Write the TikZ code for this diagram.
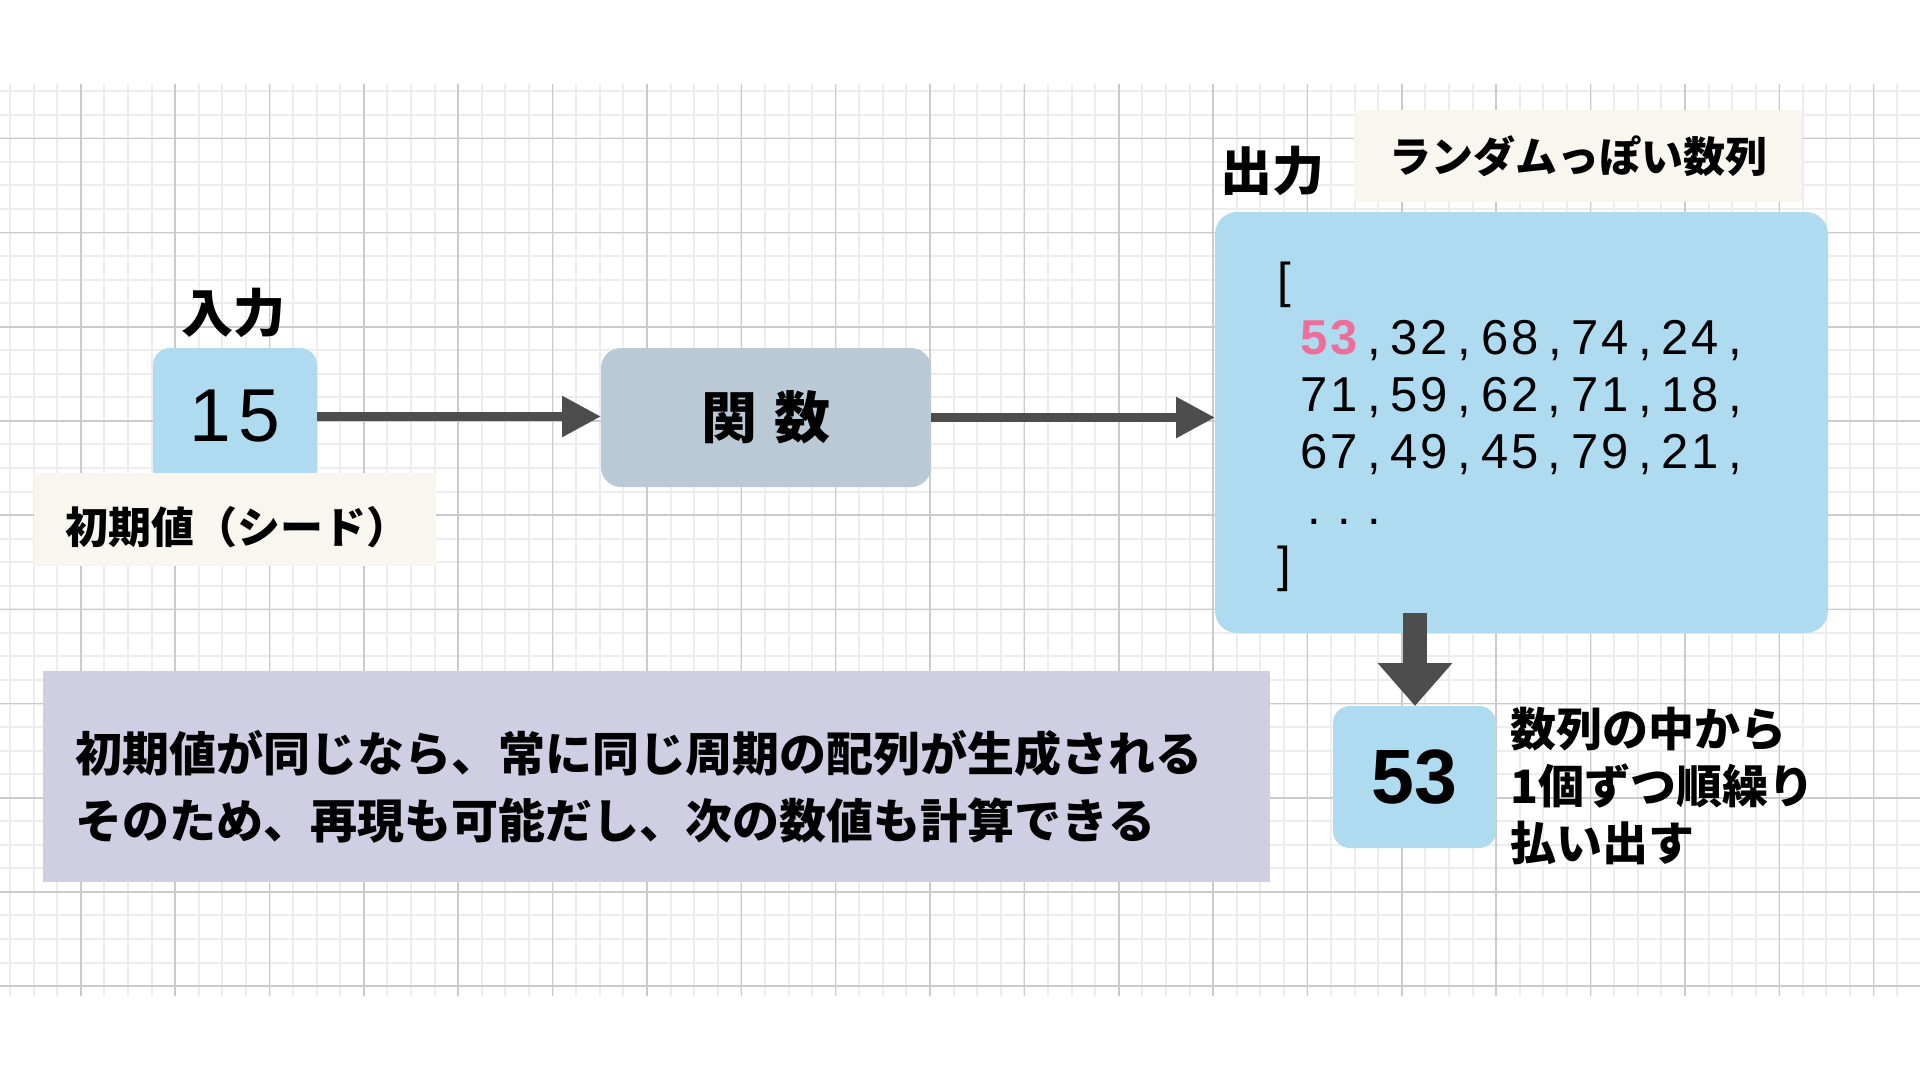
\documentclass[tikz,border=0pt]{standalone}
\usepackage{fontspec}
\setmainfont{Liberation Sans}
\newfontfamily\jp{Noto Sans CJK JP}
\newfontfamily\lsans{Liberation Sans}
\usetikzlibrary{arrows.meta}
\definecolor{boxblue}{HTML}{AEDBEF}
\definecolor{fnblue}{HTML}{B9C9D6}
\definecolor{creamc}{HTML}{F8F6EE}
\definecolor{lav}{HTML}{CFCEE3}
\definecolor{arrowgray}{HTML}{4D4D4D}
\definecolor{pinknum}{HTML}{EE6E9A}
\definecolor{gridmajor}{HTML}{CBCBCB}
\definecolor{gridminor}{HTML}{EDEDED}
\newcommand\mcell[1]{\makebox[30.1pt]{#1}}
\def\mrow#1{\ifx#1\relax\else\mcell{#1}\expandafter\mrow\fi}
\begin{document}
\begin{tikzpicture}[x=1pt,y=-1pt,
  every node/.style={inner sep=0pt, outer sep=0pt},
  gridminorline/.style={draw=gridminor, line width=2pt},
  gridmajorline/.style={draw=gridmajor, line width=1.6pt},
  bluebox/.style={rectangle, fill=boxblue, rounded corners=17pt},
  fnbox/.style={rectangle, fill=fnblue, rounded corners=20pt},
  creambox/.style={rectangle, fill=creamc},
  lavbox/.style={rectangle, fill=lav},
  titletxt/.style={font={\jp\bfseries\fontsize{52}{60}\selectfont}},
  listtxt/.style={font={\lsans\fontsize{49}{57}\selectfont}, anchor=base west},
  sidetxt/.style={font={\jp\bfseries\fontsize{46}{56}\selectfont}, anchor=base west},
  notetxt/.style={font={\jp\bfseries\fontsize{47}{60}\selectfont}, anchor=base west},
  flow/.style={draw=arrowgray, line width=9pt, -{Triangle[length=39pt,width=39pt]}},
  downflow/.style={draw=arrowgray, line width=24pt, -{Triangle[length=43pt,width=72pt]}}
]
\useasboundingbox (0,0) rectangle (1920,1080);
\fill[white] (0,0) rectangle (1920,1080);
% grid
\foreach \k in {-3,...,77}{\draw[gridminorline] ({80.8+23.59*\k},84) -- ({80.8+23.59*\k},996);}
\foreach \k in {-2,...,36}{\draw[gridminorline] (0,{138.3+23.55*\k}) -- (1920,{138.3+23.55*\k});}
\foreach \k in {0,...,19}{\draw[gridmajorline] ({80.8+94.36*\k},84) -- ({80.8+94.36*\k},996);}
\foreach \k in {0,...,9}{\draw[gridmajorline] (0,{138.3+94.2*\k}) -- (1920,{138.3+94.2*\k});}

% input
\node[bluebox, minimum width=164pt, minimum height=137pt,
      font={\lsans\fontsize{75}{80}\selectfont}] (in) at (235,416.5) {1\hspace{8pt}5};
\node[titletxt, anchor=base] (inlabel) at (233,332) {入力};
\node[creambox, minimum width=402pt, minimum height=93pt] (seedbox) at (235,519.5) {};
\node[font={\jp\bfseries\fontsize{43}{50}\selectfont}, anchor=base west] (seed) at (65,543) {初期値（シード）};

% function
\node[fnbox, minimum width=330pt, minimum height=139pt,
      font={\jp\bfseries\fontsize{56}{60}\selectfont}] (fn) at (766,417.5) {関\hspace{18pt}数};

% output
\node[bluebox, rounded corners=22pt, minimum width=613pt, minimum height=421pt] (out) at (1521.5,422.5) {};
\node[titletxt, anchor=base west] (outlabel) at (1220,190) {出力};
\node[creambox, minimum width=448pt, minimum height=92pt,
      font={\jp\bfseries\fontsize{42}{50}\selectfont}] (rand) at (1578,156) {ランダムっぽい数列};
\node[listtxt] (l0) at (1269,297) {\mrow [\relax};
\node[listtxt] (l1) at (1299,354) {{\color{pinknum}\bfseries\mrow 53\relax}\mrow ,32,68,74,24,\relax};
\node[listtxt] (l2) at (1299,411) {\mrow 71,59,62,71,18,\relax};
\node[listtxt] (l3) at (1299,468) {\mrow 67,49,45,79,21,\relax};
\node[listtxt] (l4) at (1299,524) {\mrow ...\relax};
\node[listtxt] (l5) at (1269,581) {\mrow ]\relax};

% picked number
\node[bluebox, minimum width=163pt, minimum height=142pt,
      font={\lsans\bfseries\fontsize{77}{80}\selectfont}] (pick) at (1414.5,777) {53};
\node[sidetxt] (d1) at (1510,746) {数列の中から};
\node[sidetxt] (d2) at (1510,803) {1個ずつ順繰り};
\node[sidetxt] (d3) at (1510,860) {払い出す};

% note
\node[lavbox, minimum width=1227pt, minimum height=211pt] (note) at (656.5,776.5) {};
\node[notetxt] (p1) at (75,771) {初期値が同じなら、常に同じ周期の配列が生成される};
\node[notetxt] (p2) at (75,838) {そのため、再現も可能だし、次の数値も計算できる};

% connectors
\draw[flow] (in.east) -- (in.east -| fn.west);
\draw[flow] (fn.east) -- (fn.east -| out.west);
\coordinate (dstart) at (1415,613);
\draw[downflow] (dstart) -- (dstart |- pick.north);
\end{tikzpicture}
\end{document}
